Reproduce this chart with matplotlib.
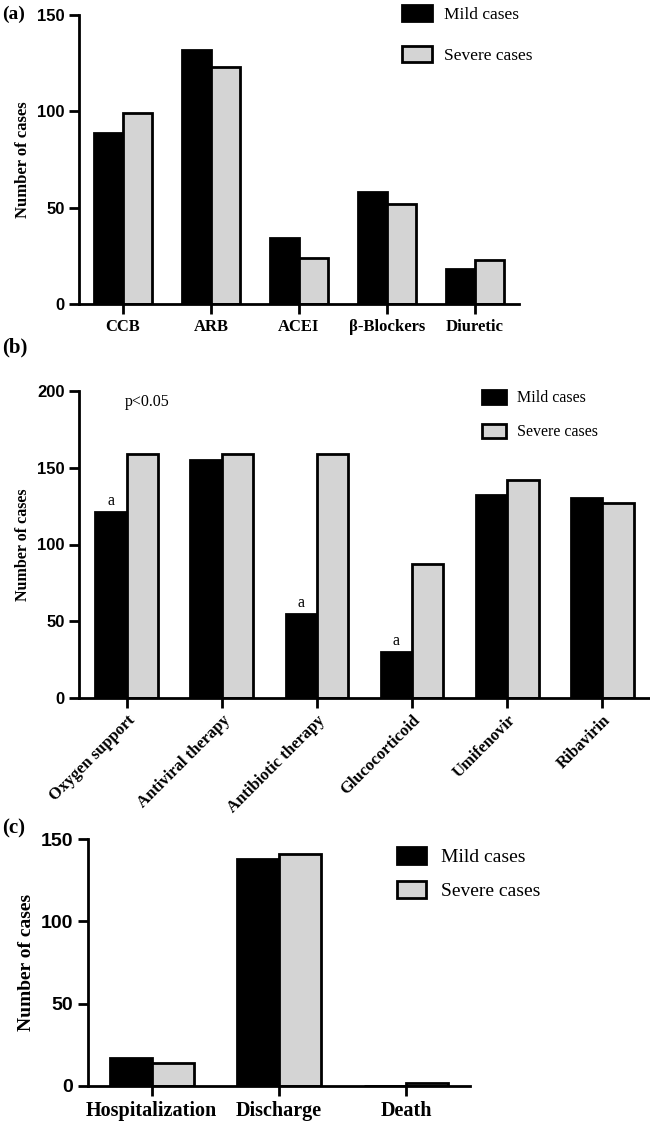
import matplotlib
matplotlib.use("Agg")
import matplotlib.pyplot as plt
import numpy as np
from matplotlib.patches import Patch

# ---- data ----
drug_cats = ["CCB", "ARB", "ACEI", "\u03b2-Blockers", "Diuretic"]
drug_mild = [89, 132, 34, 58, 18]
drug_severe = [99, 123, 24, 52, 23]

treat_cats = ["Oxygen support", "Antiviral therapy", "Antibiotic therapy",
              "Glucocorticoid", "Umifenovir", "Ribavirin"]
treat_mild = [121, 155, 55, 30, 132, 130]
treat_severe = [159, 159, 159, 87, 142, 127]
treat_sig = [True, False, True, True, False, False]

outc_cats = ["Hospitalization", "Discharge", "Death"]
outc_mild = [17, 138, 0]
outc_severe = [14, 141, 2]

series_names = ["Mild cases", "Severe cases"]

W, H = 650, 1125
fig = plt.figure(figsize=(W / 100, H / 100), dpi=100)

SERIF = "Liberation Serif"
SANS = "Liberation Sans"
GRAY = "#d4d4d4"
LW = 2.0
BW = 0.33


def px_axes(x0, x1, ytop, ybot):
    return fig.add_axes([x0 / W, 1 - ybot / H, (x1 - x0) / W, (ybot - ytop) / H])


def style(ax, ylim, yticks, yfs, ylfs):
    ax.set_ylim(*ylim)
    ax.set_yticks(yticks)
    for s in ["top", "right"]:
        ax.spines[s].set_visible(False)
    for s in ["left", "bottom"]:
        ax.spines[s].set_linewidth(LW)
    ax.tick_params(axis="both", width=LW, length=7, direction="out")
    for lab in ax.get_yticklabels():
        lab.set_fontfamily(SANS)
        lab.set_fontweight("bold")
        lab.set_fontsize(yfs)
    ax.set_ylabel("Number of cases", fontfamily=SERIF, fontweight="bold", fontsize=ylfs)


def bars(ax, mild, severe):
    x = np.arange(len(mild))
    ax.bar(x - BW / 2, mild, BW, color="black", edgecolor="black", linewidth=LW, zorder=2)
    ax.bar(x + BW / 2, severe, BW, color=GRAY, edgecolor="black", linewidth=LW, zorder=2)
    return x


def legend(ax, x_px, y_px, fs, hl, hh, ls, tp):
    handles = [Patch(facecolor="black", edgecolor="black", linewidth=LW),
               Patch(facecolor=GRAY, edgecolor="black", linewidth=LW)]
    ax.legend(handles, series_names, loc="upper left",
              bbox_to_anchor=(x_px / W, 1 - y_px / H), bbox_transform=fig.transFigure,
              frameon=False, borderpad=0, borderaxespad=0,
              handlelength=hl, handleheight=hh, labelspacing=ls, handletextpad=tp,
              prop={"family": SERIF, "size": fs})


# ---- panel (a) ----
axa = px_axes(79, 519, 15, 304)
x = bars(axa, drug_mild, drug_severe)
axa.set_xlim(-0.5, len(drug_cats) - 0.5)
axa.set_xticks(x)
axa.set_xticklabels(drug_cats, fontfamily=SERIF, fontweight="bold", fontsize=12)
style(axa, (0, 150), [0, 50, 100, 150], 12, 12)
legend(axa, 402, 5, 12.5, 1.7, 1.0, 1.35, 0.7)
fig.text(2 / W, 1 - 14 / H, "(a)", fontfamily=SERIF, fontweight="bold", fontsize=14, va="center")

# ---- panel (b) ----
axb = px_axes(79, 650, 391, 698)
x = bars(axb, treat_mild, treat_severe)
axb.set_xlim(-0.5, len(treat_cats) - 0.5)
axb.set_xticks(x)
axb.set_xticklabels(treat_cats, fontfamily=SERIF, fontweight="bold", fontsize=12,
                    rotation=45, ha="right", rotation_mode="anchor")
style(axb, (0, 200), [0, 50, 100, 150, 200], 12, 11.5)
for xi, m, sig in zip(x, treat_mild, treat_sig):
    if sig:
        axb.text(xi - BW / 2, m + 2, "a", ha="center", va="bottom", fontfamily=SERIF, fontsize=11.5)
axb.text(0.08, 0.965, "p<0.05", transform=axb.transAxes, fontfamily=SERIF, fontsize=11.5,
         ha="left", va="center")
legend(axb, 482, 390, 11.5, 1.5, 0.95, 1.1, 0.7)
fig.text(2 / W, 1 - 347 / H, "(b)", fontfamily=SERIF, fontweight="bold", fontsize=15, va="center")

# ---- panel (c) ----
axc = px_axes(88, 470, 839, 1086)
x = bars(axc, outc_mild, outc_severe)
axc.set_xlim(-0.5, len(outc_cats) - 0.5)
axc.set_xticks(x)
axc.set_xticklabels(outc_cats, fontfamily=SERIF, fontweight="bold", fontsize=14.5)
style(axc, (0, 150), [0, 50, 100, 150], 14, 14)
legend(axc, 397, 847, 14, 1.5, 0.95, 0.78, 0.75)
fig.text(2 / W, 1 - 828 / H, "(c)", fontfamily=SERIF, fontweight="bold", fontsize=15, va="center")

fig.savefig("out.png", dpi=100)
